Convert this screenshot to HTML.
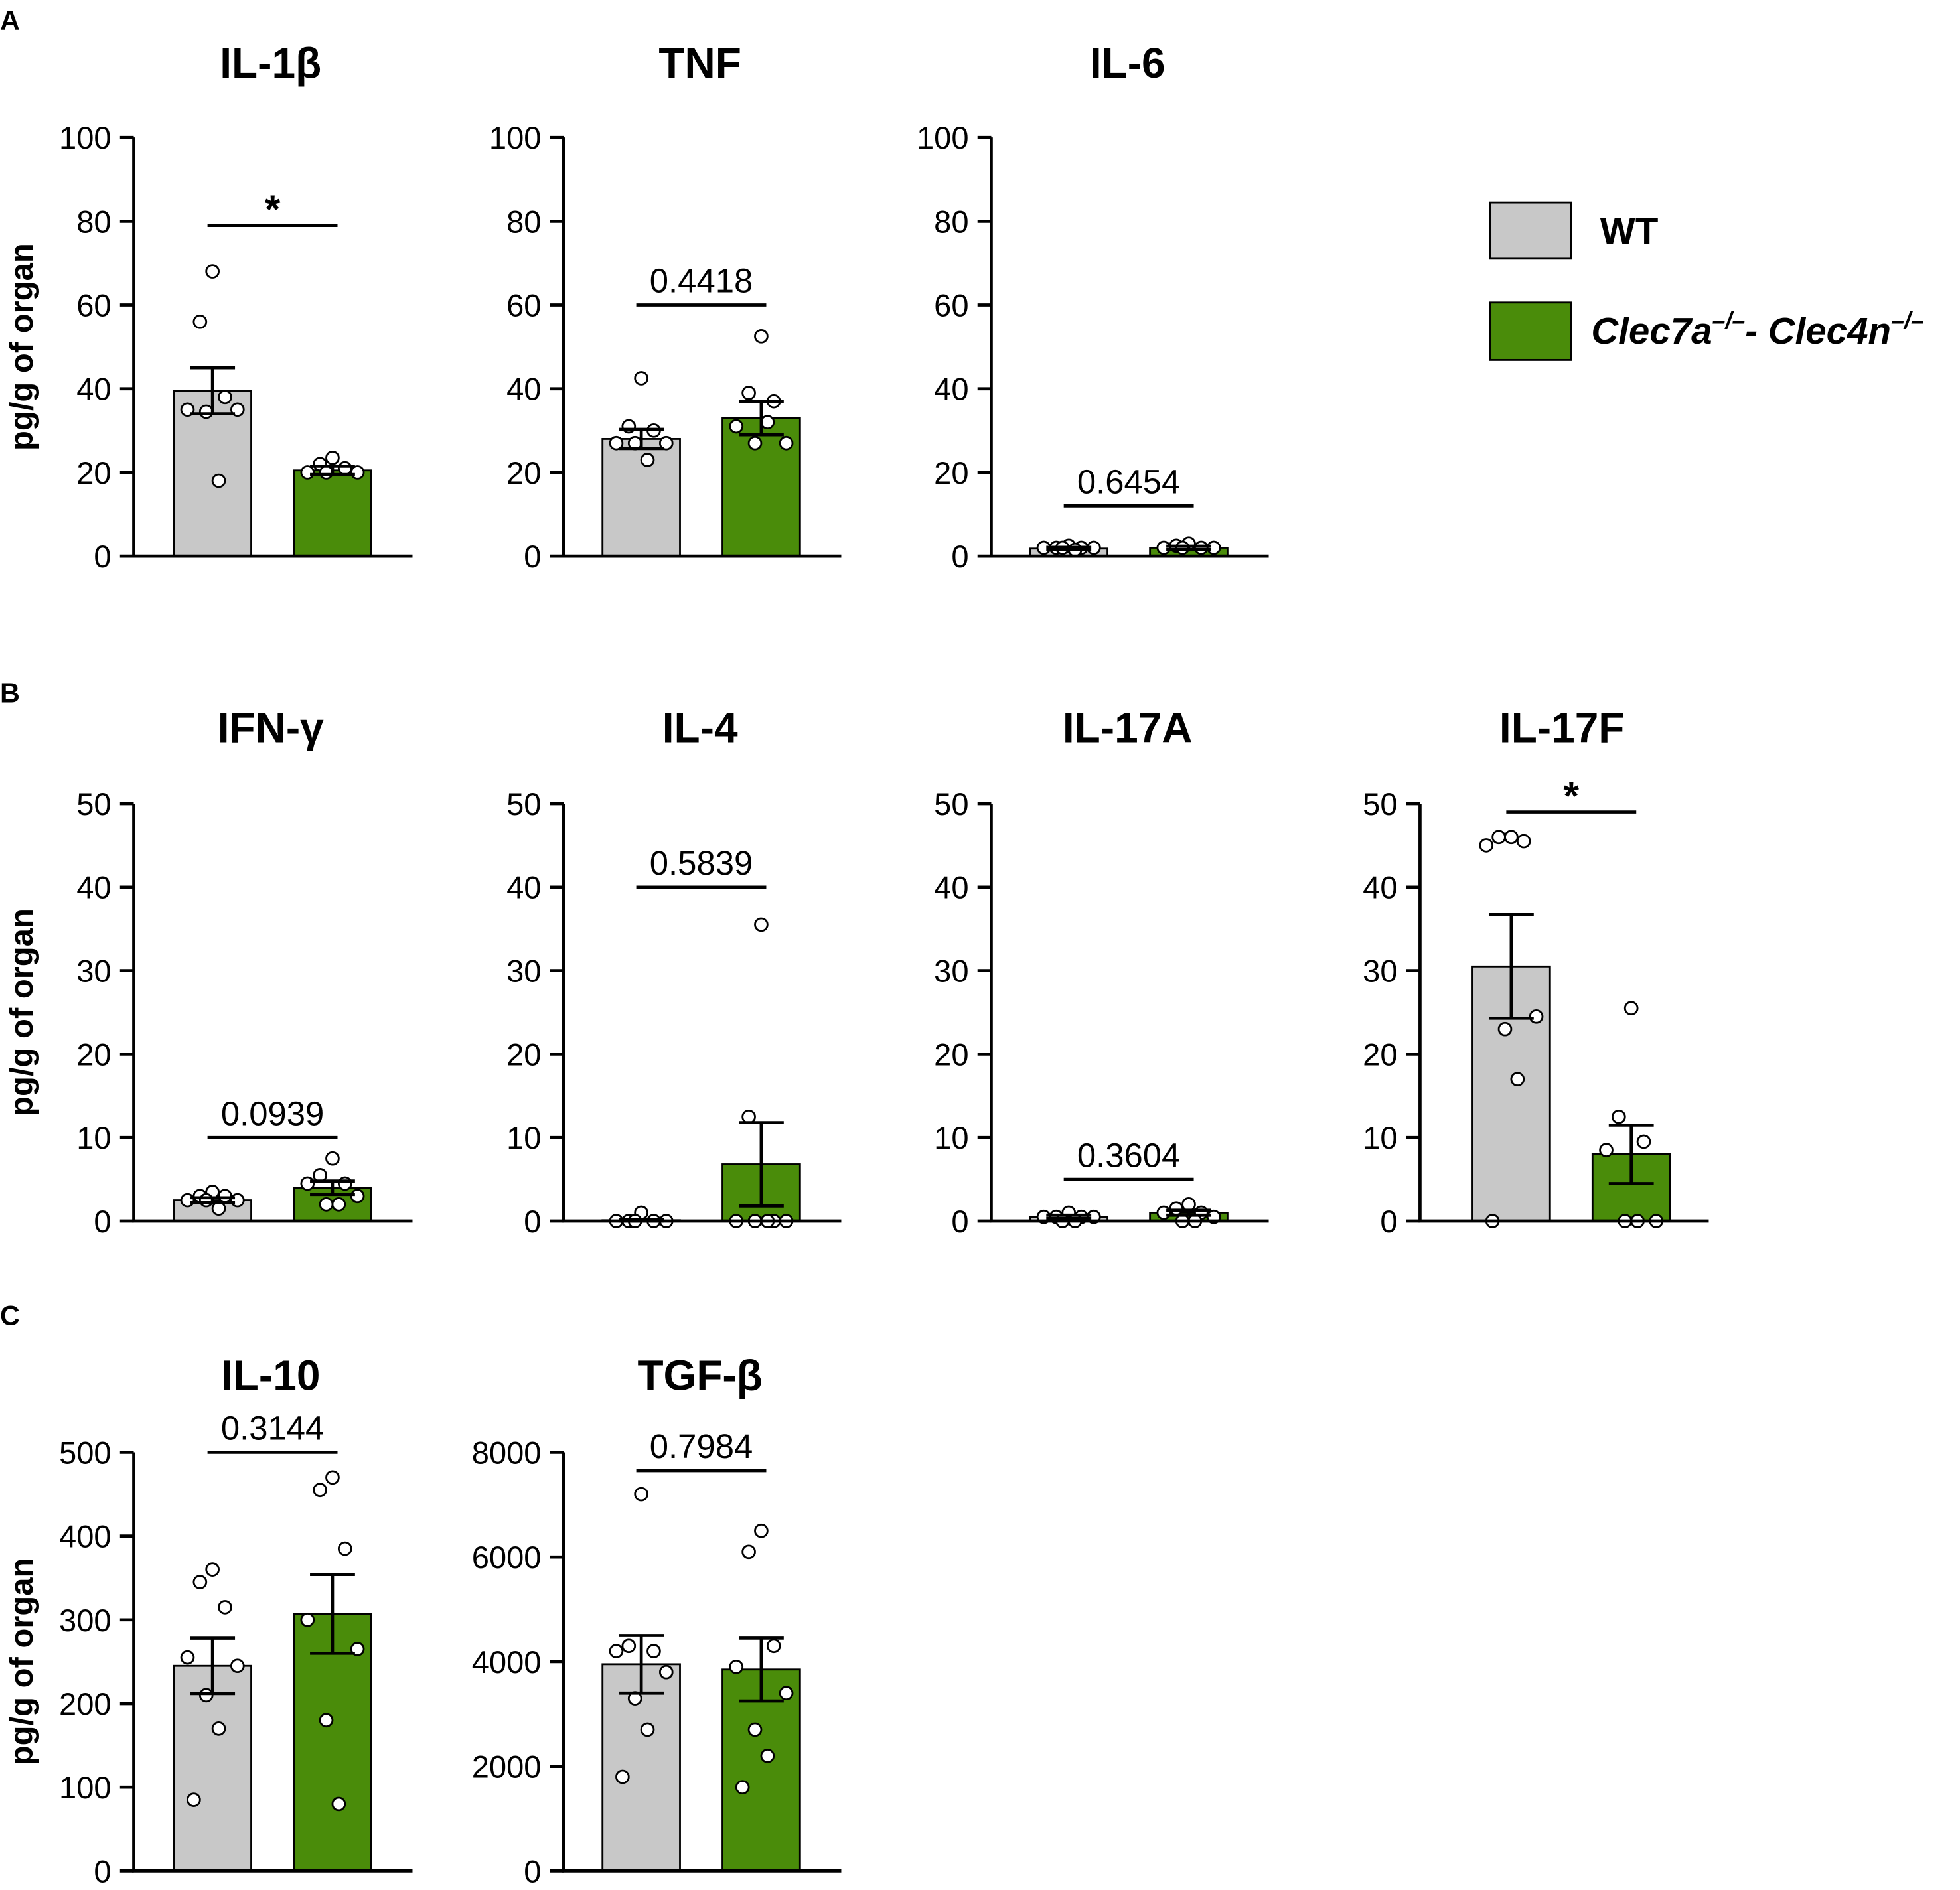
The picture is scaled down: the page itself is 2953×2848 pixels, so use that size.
<!DOCTYPE html>
<html><head><meta charset="utf-8"><style>
html,body{margin:0;padding:0;background:#fff}
svg{display:block}
text{font-family:"Liberation Sans",Arial,sans-serif;fill:#000}
</style></head><body>
<svg id="fig" width="2953" height="2848" viewBox="0 0 1568 1512.2" preserveAspectRatio="none" xmlns="http://www.w3.org/2000/svg">
<text x="0" y="24" font-size="22" font-weight="bold">A</text>
<text x="0" y="562" font-size="22" font-weight="bold">B</text>
<text x="0" y="1060" font-size="22" font-weight="bold">C</text>
<g>
<rect x="1192" y="162" width="65" height="45" fill="#c8c8c8" stroke="#000" stroke-width="1.5"/>
<text x="1280" y="195" font-size="30" font-weight="bold">WT</text>
<rect x="1192" y="242" width="65" height="46" fill="#4a8c0a" stroke="#000" stroke-width="1.5"/>
<text x="1273" y="275" font-size="30" font-weight="bold" font-style="italic">Clec7a<tspan font-size="19" dy="-12">–/–</tspan><tspan dy="12">- Clec4n</tspan><tspan font-size="19" dy="-12">–/–</tspan></text>
</g>
</svg>
<script>
const titles=["IL-1β","TNF","IL-6","IFN-γ","IL-4","IL-17A","IL-17F","IL-10","TGF-β"];
const maxVals=[100,100,100,50,50,50,50,500,8000];
const tickSteps=[20,20,20,10,10,10,10,100,2000];
const wtMeans=[39.5,28,1.8,2.5,0.1,0.5,30.5,245,3950];
const wtSems=[5.5,2.3,0.3,0.3,0.1,0.2,6.2,33,550];
const koMeans=[20.5,33,2,4,6.8,1,8,307,3850];
const koSems=[1,4,0.4,0.8,5,0.3,3.5,47,600];
const wtPoints=[[68,56,38,35,35,34.5,18],[42.5,31,30,27,27,27,23],[2.5,2,2,2,2,2,1.5],[3.5,3,3,2.5,2.5,2.5,1.5],[1,0,0,0,0,0],[1,0.5,0.5,0.5,0.5,0,0],[46,46,45.5,45,24.5,23,17,0],[360,345,315,255,245,210,170,85],[7200,4300,4200,4200,3800,3300,2700,1800]];
const koPoints=[[23.5,22,21,20,20,20],[52.5,39,37,31,27,27,32],[3,2.5,2,2,2,2],[7.5,5.5,4.5,4.5,3,2,2],[35.5,12.5,0,0,0,0,0],[2,1.5,1,1,0.5,0,0],[25.5,12.5,9.5,8.5,0,0,0],[470,455,385,300,265,180,80],[6500,6100,4300,3900,3400,2700,2200,1600]];
const pLabels=["*","0.4418","0.6454","0.0939","0.5839","0.3604","*","0.3144","0.7984"];
const pLevels=[79,60,12,10,40,5,49,500,7650];

const layout=[
 {ax:107,wt:170,ko:266,end:330,top:110,bot:445,ty:62},
 {ax:451,wt:513,ko:609,end:673,top:110,bot:445,ty:62},
 {ax:793,wt:855,ko:951,end:1015,top:110,bot:445,ty:62},
 {ax:107,wt:170,ko:266,end:330,top:643,bot:977,ty:594},
 {ax:451,wt:513,ko:609,end:673,top:643,bot:977,ty:594},
 {ax:793,wt:855,ko:951,end:1015,top:643,bot:977,ty:594},
 {ax:1136,wt:1209,ko:1305,end:1367,top:643,bot:977,ty:594},
 {ax:107,wt:170,ko:266,end:330,top:1162,bot:1497,ty:1112},
 {ax:451,wt:513,ko:609,end:673,top:1162,bot:1497,ty:1112}];
const NS="http://www.w3.org/2000/svg";
const svg=document.getElementById('fig');
function mk(tag,attrs,parent){const e=document.createElementNS(NS,tag);for(const k in attrs)e.setAttribute(k,attrs[k]);(parent||svg).appendChild(e);return e;}
const jit=[0,-10,10,-20,20,-5,5,-15,15];
titles.forEach((t,i)=>{
 const L=layout[i];
 const y=v=>L.bot-(v/maxVals[i])*(L.bot-L.top);
 const g=mk('g',{});
 
 
 const tt=mk('text',{x:(L.ax+L.end)/2-2,y:L.ty,'font-size':34,'font-weight':'bold','text-anchor':'middle'},g);tt.textContent=t;
 
 
 if(L.ax===107){const yt=mk('text',{transform:`translate(26,${(L.top+L.bot)/2}) rotate(-90)`,'font-size':26,'font-weight':'bold','text-anchor':'middle'},g);yt.textContent='pg/g of organ';
  
  }
 [[L.wt,wtMeans[i],wtSems[i],'#c8c8c8',wtPoints[i],'wt'],[L.ko,koMeans[i],koSems[i],'#4a8c0a',koPoints[i],'ko']].forEach(([cx,m,s,col,pts,nm])=>{
  const b=mk('rect',{x:cx-31,y:y(m),width:62,height:L.bot-y(m),fill:col,stroke:'#000','stroke-width':1.5},g);
  
  
  pts.forEach((v,k)=>{const c=mk('circle',{cx:cx+jit[k%jit.length],cy:y(v),r:5,fill:'#fff',stroke:'#000','stroke-width':1.5},g);
   
   });
  const e=mk('path',{d:`M${cx},${y(m+s)}V${y(Math.max(0,m-s))}M${cx-18},${y(m+s)}H${cx+18}M${cx-18},${y(Math.max(0,m-s))}H${cx+18}`,stroke:'#000','stroke-width':2.5,fill:'none'},g);
  
  
 });
 const ax=mk('path',{d:`M${L.ax},${L.top}V${L.bot}H${L.end}`,stroke:'#000','stroke-width':2.5,fill:'none'},g);
 
 
 for(let v=0;v<=maxVals[i];v+=tickSteps[i]){
  mk('line',{x1:L.ax-11,x2:L.ax,y1:y(v),y2:y(v),stroke:'#000','stroke-width':2.5},g);
  const tl=mk('text',{x:L.ax-18,y:y(v)+9,'font-size':25,'text-anchor':'end'},g);tl.textContent=v;
  
  
 }
 const mid=(L.wt+L.ko)/2,py=y(pLevels[i]);
 const sl=mk('line',{x1:mid-52,x2:mid+52,y1:py,y2:py,stroke:'#000','stroke-width':2.5},g);
 
 
 const star=pLabels[i]==='*';
 const pt=mk('text',{x:mid,y:star?py-2:py-10,'font-size':star?32:27,'font-weight':star?'bold':'normal','text-anchor':'middle'},g);pt.textContent=pLabels[i];
 
 
});
</script>
</body></html>
